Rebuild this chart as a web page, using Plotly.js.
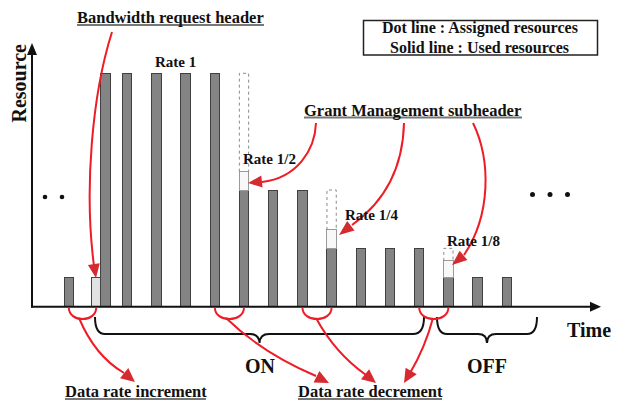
<!DOCTYPE html>
<html><head><meta charset="utf-8">
<script src="https://cdn.plot.ly/plotly-3.0.1.min.js"></script>
<style>html,body{margin:0;padding:0;background:#fff}#chart{width:619px;height:401px}</style>
</head><body><div id="chart"></div>
<script>
// ---- data ----
const slotTimes = [1, 1.94, 2.26, 3, 4, 5, 6, 7, 8, 9, 10, 11, 12, 13, 14, 15, 16];
const usedResources = [1, 0, 8, 8, 8, 8, 8, 4, 4, 4, 2, 2, 2, 2, 1, 1, 1];
const headerResources = [0, 1, 0, 0, 0, 0, 0, 0.63, 0, 0, 0.63, 0, 0, 0, 0.57, 0, 0];
const assignedResources = [null, null, null, null, null, null, null, 8, null, null, 4, null, null, null, 2, null, null];
const rateLabels = ['Rate 1', 'Rate 1/2', 'Rate 1/4', 'Rate 1/8'];
const phaseLabels = ['ON', 'OFF'];
const noteLabels = ['Bandwidth request header', 'Grant Management subheader', 'Data rate increment', 'Data rate decrement'];
const legendLines = ['Dot line : Assigned resources', 'Solid line : Used resources'];
const axisLabels = ['Resource', 'Time'];
const rateChangePairs = [[0, 1], [6, 7], [9, 10], [13, 14]];

// ---- geometry helpers (decoration only) ----
const W = 619, H = 401;
const XR = [-1.356, 19.842], YR = [-3.232, 10.512];
const PX = x => x / W, PY = y => 1 - y / H;
const tToPx = t => (t - XR[0]) / (XR[1] - XR[0]) * W;
const BASE = 306.7;
function pathPx(d) {
  const toks = d.trim().split(/[\s,]+/);
  const out = []; let k = 0;
  for (const t of toks) {
    if (/^[A-Za-z]$/.test(t)) { out.push(t); k = 0; }
    else { const v = parseFloat(t); out.push((k % 2 === 0 ? PX(v) : PY(v)).toFixed(5)); k++; }
  }
  return out.join(' ');
}
function headPath(tx, ty, fx, fy, len, half) {
  const dx = tx - fx, dy = ty - fy, L = Math.hypot(dx, dy);
  const ux = dx / L, uy = dy / L;
  const bx = tx - ux * len, by = ty - uy * len;
  return pathPx(`M ${tx} ${ty} L ${bx - uy * half} ${by + ux * half} L ${bx + uy * half} ${by - ux * half} Z`);
}
const RED = '#ee1c25', RED_HEAD = '#d42a30';
const FONT = 'Liberation Serif, Times New Roman, serif';

// ---- traces ----
const barW = 0.318;
const usedTrace = {
  type: 'bar', x: slotTimes, y: usedResources, width: barW,
  marker: {color: '#848484', line: {color: '#404040', width: 1}}, hoverinfo: 'skip'
};
const headerTrace = {
  type: 'bar', x: slotTimes, y: headerResources.map(v => v || null), width: barW,
  marker: {
    color: usedResources.map(u => u === 0 ? '#e2e2e2' : '#f8f8f8'),
    line: {color: usedResources.map(u => u === 0 ? '#444' : '#9a9a9a'), width: 1}
  }, hoverinfo: 'skip'
};
const dx = [], dy = [];
assignedResources.forEach((a, i) => {
  if (a == null) return;
  const lo = usedResources[i] + headerResources[i];
  const t = slotTimes[i];
  dx.push(t - barW / 2, t - barW / 2, t + barW / 2, t + barW / 2, null);
  dy.push(lo, a, a, lo, null);
});
const assignedTrace = {
  type: 'scatter', mode: 'lines', x: dx, y: dy, connectgaps: false,
  line: {color: '#8a8a8a', width: 1, dash: 'dot'}, hoverinfo: 'skip'
};

// ---- shapes ----
const shapes = [];
const line = (x0, y0, x1, y1, color, w) => shapes.push({type: 'line', xref: 'paper', yref: 'paper', x0: PX(x0), y0: PY(y0), x1: PX(x1), y1: PY(y1), line: {color, width: w}});
const path = (d, color, w) => shapes.push({type: 'path', xref: 'paper', yref: 'paper', path: pathPx(d), line: {color, width: w}, fillcolor: 'rgba(0,0,0,0)'});
const head = (tx, ty, fx, fy, len, half, color) => shapes.push({type: 'path', xref: 'paper', yref: 'paper', path: headPath(tx, ty, fx, fy, len, half), line: {width: 0}, fillcolor: color});
const dot = (x, y, r) => shapes.push({type: 'circle', xref: 'paper', yref: 'paper', x0: PX(x - r), x1: PX(x + r), y0: PY(y + r), y1: PY(y - r), line: {width: 0}, fillcolor: '#111'});

// axes
line(31, BASE, 592, BASE, '#111', 2);
head(601, BASE, 590, BASE, 11, 5, '#111');
line(32, BASE + 0.8, 32, 54, '#111', 2);
head(32, 43, 32, 54, 12, 5, '#111');

// legend box
shapes.push({type: 'rect', xref: 'paper', yref: 'paper', x0: PX(363.5), x1: PX(597.5), y0: PY(55), y1: PY(20.5), line: {color: '#222', width: 1.5}});

// underlines
line(77, 25, 264, 25, '#777', 2);
line(304, 117.5, 522, 117.5, '#777', 2);
line(65, 399, 206, 399, '#777', 2);
line(298, 399, 442, 399, '#777', 2);

// dots
[45, 62].forEach(x => dot(x, 197, 2.3));
[532.5, 550, 567.5].forEach(x => dot(x, 194.5, 2.5));

// braces
path('M 95 317 Q 95 334 105 334 L 250 334 Q 259 334 259.5 343 Q 260 334 269 334 L 413 334 Q 424 334 424 317', '#111', 2);
path('M 437 317 Q 437 334 447 334 L 478 334 Q 487 334 487 343 Q 487 334 496 334 L 527 334 Q 537 334 537 317', '#111', 2);

// rate-change arcs under the baseline
rateChangePairs.forEach(([i, j]) => {
  const a = tToPx(slotTimes[i]), b = tToPx(slotTimes[j]);
  path(`M ${a} ${BASE + 0.5} C ${a} 323 ${b} 323 ${b} ${BASE + 0.5}`, RED, 2);
});

// red arrows
const redArrows = [
  {d: 'M 112 32 C 92 95 84 190 94 266', tip: [96, 278], from: [93.5, 262], len: 14, half: 6},
  {d: 'M 316 123 C 315 150 297 178 262 182', tip: [248, 183], from: [262, 181.5], len: 14, half: 6},
  {d: 'M 404 123 C 403 165 387 200 352 225', tip: [339, 235], from: [352, 225], len: 15, half: 6},
  {d: 'M 473 123 C 491 160 491 215 464 255', tip: [452, 265], from: [464, 255], len: 15, half: 6},
  {d: 'M 79 318 Q 95 356 124 373', tip: [135, 382], from: [124, 373], len: 14, half: 6.5},
  {d: 'M 226 318 Q 262 353 316 376', tip: [329, 383], from: [316, 376.5], len: 14, half: 6.5},
  {d: 'M 316 318 Q 335 353 366 375', tip: [376, 383], from: [366, 375], len: 14, half: 6.5},
  {d: 'M 433 318 Q 425 348 410 373', tip: [404, 383], from: [410, 373], len: 14, half: 6.5}
];
redArrows.forEach(r => { path(r.d, RED, 2); head(r.tip[0], r.tip[1], r.from[0], r.from[1], r.len, r.half, RED_HEAD); });

// ---- annotations ----
const ann = (text, x, y, size, extra) => Object.assign({
  text, xref: 'paper', yref: 'paper', x: PX(x), y: PY(y), xanchor: 'center', yanchor: 'middle',
  showarrow: false, font: {family: FONT, size, color: '#111', weight: 700}, borderpad: 0
}, extra || {});
const annotations = [
  ann(axisLabels[0], 18.5, 83, 20, {textangle: -90}),
  ann(axisLabels[1], 589, 330, 20),
  ann(noteLabels[0], 170.5, 18, 16.5),
  ann(noteLabels[1], 413, 110.5, 16.5),
  ann(noteLabels[2], 135.5, 391.5, 16.5),
  ann(noteLabels[3], 370, 391.5, 16.5),
  ann(legendLines[0], 480, 27.5, 16),
  ann(legendLines[1], 479.5, 47.5, 16),
  ann(rateLabels[0], 175.5, 62, 15),
  ann(rateLabels[1], 269, 159, 15),
  ann(rateLabels[2], 371, 214.5, 15),
  ann(rateLabels[3], 473, 241.5, 15),
  ann(phaseLabels[0], 260, 365.5, 20),
  ann(phaseLabels[1], 486.5, 365.5, 20)
];

const layout = {
  width: W, height: H, margin: {l: 0, r: 0, t: 0, b: 0, pad: 0},
  paper_bgcolor: '#fff', plot_bgcolor: '#fff', showlegend: false, barmode: 'stack', hovermode: false,
  xaxis: {range: XR, visible: false, fixedrange: true},
  yaxis: {range: YR, visible: false, fixedrange: true},
  shapes, annotations
};
Plotly.newPlot('chart', [usedTrace, headerTrace, assignedTrace], layout, {staticPlot: true, displayModeBar: false});
</script></body></html>
